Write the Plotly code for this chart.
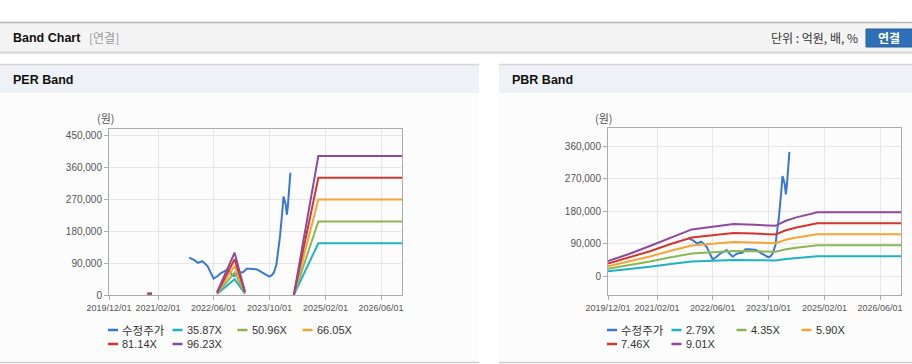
import plotly.graph_objects as go

W, H = 912, 364

# ---------------- data ----------------
x_tick_dates = ["2019-12-01", "2021-02-01", "2022-06-01", "2023-10-01", "2025-02-01", "2026-06-01"]
x_tick_labels = ["2019/12/01", "2021/02/01", "2022/06/01", "2023/10/01", "2025/02/01", "2026/06/01"]

price_dates = ["2021-11-01", "2021-12-15", "2022-01-15", "2022-02-20", "2022-03-20", "2022-04-10",
               "2022-06-01", "2022-07-01", "2022-08-01", "2022-09-01", "2022-10-01", "2022-11-01",
               "2022-11-25", "2022-12-20", "2023-01-10", "2023-02-15", "2023-03-15", "2023-04-15",
               "2023-06-15", "2023-08-01", "2023-09-10", "2023-10-01", "2023-10-20", "2023-11-10",
               "2023-12-01", "2023-12-20", "2024-01-01", "2024-01-20", "2024-02-01", "2024-02-20",
               "2024-03-01", "2024-03-10", "2024-03-20", "2024-04-01"]
price_values = [105000, 98000, 90500, 95000, 88000, 81000,
                46000, 52000, 61000, 67000, 72000, 60000,
                53400, 60000, 62800, 64500, 74000, 74000,
                72000, 62800, 55000, 51800, 55000, 64000,
                86000, 130000, 164000, 230000, 277000, 255000,
                226000, 250000, 290000, 344000]

per_labels = ["35.87X", "50.96X", "66.05X", "81.14X", "96.23X"]
per_dates = ["2020-11-01", "2020-12-10", "2021-06-01", "2022-07-01", "2022-12-01", "2023-03-01",
             "2023-10-01", "2024-05-01", "2024-12-01", "2026-12-01"]
per_3587 = [1600, 1600, None, 2900, 44400, 3600, None, 0, 145700, 145700]
per_5096 = [2300, 2300, None, 4100, 63000, 5100, None, 0, 207000, 207000]
per_6605 = [3000, 3000, None, 5300, 81700, 6600, None, 0, 268400, 268400]
per_8114 = [3700, 3700, None, 6500, 100400, 8100, None, 0, 329700, 329700]
per_9623 = [4300, 4300, None, 7700, 119000, 9600, None, 0, 391000, 391000]

pbr_labels = ["2.79X", "4.35X", "5.90X", "7.46X", "9.01X"]
pbr_dates = ["2019-12-01", "2020-06-01", "2020-12-01", "2021-06-01", "2021-12-01", "2022-06-01",
             "2022-12-01", "2023-06-01", "2023-12-01", "2024-03-01", "2024-06-01", "2024-12-01",
             "2026-12-01"]
pbr_279 = [12900, 18900, 25700, 33100, 40000, 42300, 44600, 44000, 43000, 47400, 50300, 54700, 54700]
pbr_435 = [20000, 29500, 40100, 51700, 62300, 65900, 69500, 68600, 67100, 73900, 78500, 85200, 85200]
pbr_590 = [27200, 39900, 54300, 70100, 84500, 89400, 94300, 93000, 91000, 100200, 106400, 115600, 115600]
pbr_746 = [34400, 50500, 68700, 88600, 106800, 113000, 119200, 117600, 115100, 126700, 134600, 146100, 146100]
pbr_901 = [41500, 61000, 83000, 107000, 129000, 136500, 144000, 142000, 139000, 153000, 162500, 176500, 176500]

price_name = "수정주가"
colors = ["#3a78d0", "#1fb2c2", "#8cb653", "#f2a636", "#d2362f", "#8e4b9d"]

# ---------------- figure ----------------
def px(x):
    return x / W

def py(y):
    return 1 - y / H

fig = go.Figure()

per_series = [per_3587, per_5096, per_6605, per_8114, per_9623]
pbr_series = [pbr_279, pbr_435, pbr_590, pbr_746, pbr_901]

fig.add_trace(go.Scatter(x=price_dates, y=price_values, mode="lines", name=price_name,
                         line=dict(color=colors[0], width=2), xaxis="x", yaxis="y", showlegend=False))
for i, s in enumerate(per_series):
    fig.add_trace(go.Scatter(x=per_dates, y=s, mode="lines", name=per_labels[i],
                             line=dict(color=colors[i + 1], width=2), connectgaps=False,
                             xaxis="x", yaxis="y", showlegend=False))

fig.add_trace(go.Scatter(x=price_dates, y=price_values, mode="lines", name=price_name,
                         line=dict(color=colors[0], width=2), xaxis="x2", yaxis="y2", showlegend=False))
for i, s in enumerate(pbr_series):
    fig.add_trace(go.Scatter(x=pbr_dates, y=s, mode="lines", name=pbr_labels[i],
                             line=dict(color=colors[i + 1], width=2),
                             xaxis="x2", yaxis="y2", showlegend=False))

axis_common = dict(showline=True, mirror=True, linecolor="#ababab", linewidth=1,
                   showgrid=True, gridcolor="#e6e6e6", gridwidth=1, zeroline=False,
                   ticks="outside", ticklen=4, tickcolor="#ababab", automargin=False)

xcommon = dict(axis_common, type="date", range=["2019-12-01", "2026-12-01"],
               tickvals=x_tick_dates, ticktext=x_tick_labels, tickangle=0,
               tickfont=dict(family="Liberation Sans", size=9, color="#555555"))

fig.update_layout(
    template="none",
    width=W, height=H, autosize=False,
    margin=dict(l=0, r=0, t=0, b=0, pad=0, autoexpand=False),
    paper_bgcolor="#ffffff",
    plot_bgcolor="#ffffff",
    font=dict(family="Liberation Sans, Noto Sans CJK KR", size=11, color="#333333"),
    showlegend=False,
    hovermode=False,
    xaxis=dict(xcommon, domain=[px(109), px(402)], anchor="y"),
    yaxis=dict(axis_common, domain=[py(295), py(129)], anchor="x", range=[0, 467000],
               tick0=0, dtick=90000, tickformat=",",
               tickfont=dict(family="Liberation Sans", size=10, color="#555555")),
    xaxis2=dict(xcommon, domain=[px(608), px(901)], anchor="y2"),
    yaxis2=dict(axis_common, domain=[py(295), py(128)], anchor="x2", range=[-52600, 410000],
                tick0=0, dtick=90000, tickformat=",",
                tickfont=dict(family="Liberation Sans", size=10, color="#555555")),
)

shapes = []
ann = []

def rect(x0, y0, x1, y1, fill, line=None, lw=0):
    shapes.append(dict(type="rect", xref="paper", yref="paper", layer="below",
                       x0=px(x0), x1=px(x1), y0=py(y1), y1=py(y0),
                       fillcolor=fill, line=dict(color=line or fill, width=lw)))

def hline(x0, x1, y, color, w=1, layer="below"):
    shapes.append(dict(type="line", xref="paper", yref="paper", layer=layer,
                       x0=px(x0), x1=px(x1), y0=py(y), y1=py(y), line=dict(color=color, width=w)))

def text(x, y, s, size=11, color="#333333", bold=False, xanchor="left", family=None):
    ann.append(dict(xref="paper", yref="paper", x=px(x), y=py(y), text=(f"<b>{s}</b>" if bold else s),
                    showarrow=False, xanchor=xanchor, yanchor="middle",
                    font=dict(size=size, color=color,
                              family=family or "Liberation Sans, Noto Sans CJK KR")))

# header bar
rect(0, 23, 912, 52, "#f4f4f4")
hline(0, 912, 22.5, "#b8b8b8", 1.5)
hline(0, 912, 52.5, "#cfcfcf", 1.5)
hline(0, 912, 54, "#ececec", 1)
text(11, 38, "Band Chart", size=12.5, color="#111111", bold=True)
text(87, 38, "[연결]", size=12, color="#999999", family="Noto Sans CJK KR")
text(860, 38, "단위 : 억원, 배, %", size=12, color="#333333", xanchor="right", family="Noto Sans CJK KR")
rect(866, 29, 914, 47, "#2f6fb5", "#26609f", 1)
text(889, 38, "연결", size=12, color="#ffffff", bold=True, xanchor="center", family="Noto Sans CJK KR")

# panels
for (a, b, title) in [(0, 479, "PER Band"), (499, 912, "PBR Band")]:
    rect(a, 65, b, 93, "#eef2f7")
    hline(a, b, 64.5, "#d6d6d6", 1.5)
    rect(a, 93, b, 362, "#fcfcfc")
    hline(a, b, 362.5, "#d0d0d0", 1.5)
    text(a + 11, 80, title, size=12.5, color="#111111", bold=True)

text(106, 118, "(원)", size=11, color="#555555", xanchor="center", family="Noto Sans CJK KR")
text(604, 118, "(원)", size=11, color="#555555", xanchor="center", family="Noto Sans CJK KR")

# manual legends
def legend(offset, labels):
    items = [price_name] + labels
    positions = [(108, 330), (172.5, 330), (237.5, 330), (302.5, 330), (108, 344), (172.5, 344)]
    for i, lab in enumerate(items):
        x, y = positions[i]
        x += offset
        hline(x, x + 10, y, colors[i], 2.5, layer="above")
        text(x + 12, y, lab, size=11.5 if i == 0 else 11, color="#333333",
             family="Noto Sans CJK KR" if i == 0 else "Liberation Sans")

legend(0, per_labels)
legend(499, pbr_labels)

fig.update_layout(shapes=shapes, annotations=ann)
fig.write_html("out.html", config={"displayModeBar": False},
               post_script="document.body.style.margin='0px';document.body.style.overflow='hidden';")
